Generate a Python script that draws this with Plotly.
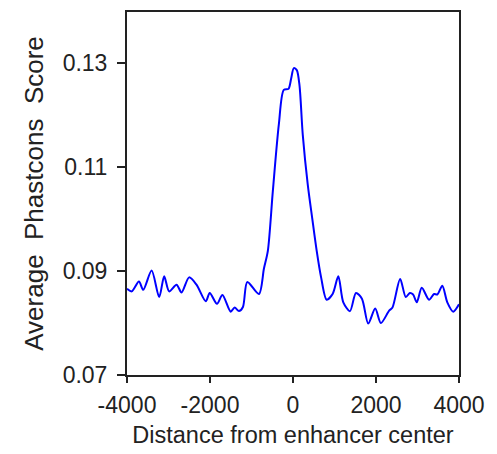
import plotly.graph_objects as go

# Average PhastCons conservation profile around enhancer centers
distance = [-4000, -3887, -3712, -3608, -3407, -3224, -3104, -2984, -2806, -2686,
            -2504, -2326, -2102, -2006, -1831, -1701, -1502, -1406, -1303, -1206,
            -1101, -822, -700, -606, -486, -342, -222, -109, -44, 19,
            91, 156, 235, 355, 461, 571, 677, 811, 955, 1092,
            1212, 1373, 1517, 1661, 1813, 1981, 2118, 2317, 2397, 2582,
            2718, 2815, 2894, 2983, 3103, 3278, 3398, 3478, 3598, 3718,
            3862, 4000]
score = [0.0866, 0.0861, 0.0880, 0.0864, 0.0901, 0.0850, 0.0890, 0.0861, 0.0874, 0.0859,
         0.0888, 0.0874, 0.0842, 0.0858, 0.0837, 0.0854, 0.0822, 0.0830, 0.0823, 0.0831,
         0.0879, 0.0856, 0.0905, 0.0939, 0.1054, 0.1182, 0.1249, 0.1251, 0.1271, 0.1291,
         0.1287, 0.1258, 0.1163, 0.1067, 0.1003, 0.0939, 0.0888, 0.0845, 0.0856, 0.0890,
         0.0840, 0.0823, 0.0858, 0.0847, 0.0799, 0.0828, 0.0800, 0.0824, 0.0830, 0.0885,
         0.0850, 0.0858, 0.0855, 0.0840, 0.0868, 0.0845, 0.0856, 0.0855, 0.0872, 0.0840,
         0.0822, 0.0836]

x_ticks = [-4000, -2000, 0, 2000, 4000]
y_ticks = [0.07, 0.09, 0.11, 0.13]

fig = go.Figure(
    go.Scatter(
        x=distance, y=score, mode="lines",
        line=dict(color="#0000FF", width=2, shape="spline", smoothing=0.8),
        hoverinfo="skip",
    )
)

font_family = "Liberation Sans, Arial, sans-serif"
fig.update_layout(
    width=497, height=454,
    margin=dict(l=127, r=38, t=10, b=79),
    plot_bgcolor="white", paper_bgcolor="white",
    showlegend=False,
    font=dict(family=font_family, color="#222222", size=23),
)
fig.update_xaxes(
    range=[-4000, 4000], tickvals=x_ticks, ticktext=[str(v) for v in x_ticks],
    showgrid=False, zeroline=False,
    showline=True, linecolor="#222222", linewidth=2, mirror=True,
    ticks="outside", ticklen=6, tickwidth=1.5, tickcolor="#222222",
    tickfont=dict(size=23), ticklabelstandoff=2,
    title=dict(text="Distance from enhancer center", font=dict(size=23.5), standoff=10),
)
fig.update_yaxes(
    range=[0.07, 0.1399], tickvals=y_ticks, ticktext=["0.07", "0.09", "0.11", "0.13"],
    showgrid=False, zeroline=False,
    showline=True, linecolor="#222222", linewidth=2, mirror=True,
    ticks="outside", ticklen=8, tickwidth=1.5, tickcolor="#222222",
    tickfont=dict(size=23), ticklabelstandoff=5,
    title=dict(text="Average  Phastcons  Score", font=dict(size=26), standoff=12),
)

fig.write_html("out.html")
